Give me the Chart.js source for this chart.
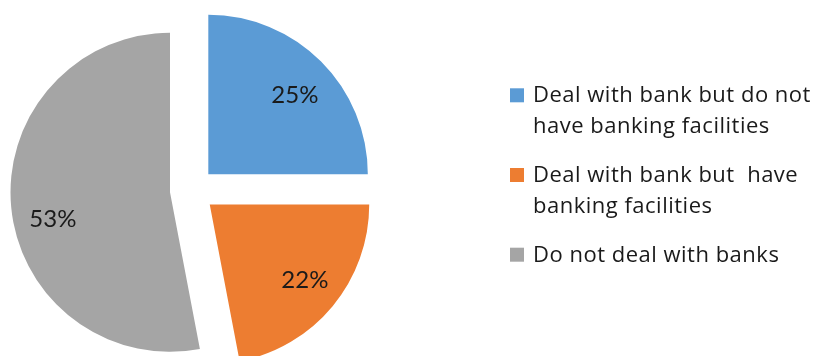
<!DOCTYPE html>
<html>
<head>
<meta charset="utf-8">
<script src="https://cdn.jsdelivr.net/npm/chart.js@4/dist/chart.umd.min.js"></script>
<style>
  html, body { margin: 0; padding: 0; background: #ffffff; }
  #wrap { position: relative; width: 816px; height: 356px; }
</style>
</head>
<body>
<div id="wrap"><canvas id="pie" width="816" height="356"></canvas></div>
<script>
// Survey split: how respondents relate to banks
const categories = [
  ['Deal with bank but do not', 'have banking facilities'],
  ['Deal with bank but  have', 'banking facilities'],
  ['Do not deal with banks']
];
const shares = [25, 22, 53];
const sliceColors = ['#5B9BD5', '#ED7D31', '#A5A5A5'];

const LABEL_FONT = 'Lato, "Open Sans", sans-serif';
const LEGEND_FONT = '"Open Sans", Lato, sans-serif';

// Pull every slice outwards along its bisector.
const explodeSlices = {
  id: 'explodeSlices',
  beforeDatasetDraw(chart, args, opts) {
    const ctx = chart.ctx;
    args.meta.data.forEach(arc => {
      const mid = (arc.startAngle + arc.endAngle) / 2;
      ctx.save();
      ctx.translate(Math.cos(mid) * opts.distance, Math.sin(mid) * opts.distance);
      arc.draw(ctx);
      ctx.restore();
    });
    return false;
  }
};

// Percentage labels inside each slice.
const sliceLabels = {
  id: 'sliceLabels',
  afterDatasetsDraw(chart, args, opts) {
    const ctx = chart.ctx;
    const meta = chart.getDatasetMeta(0);
    const values = chart.data.datasets[0].data;
    const total = values.reduce((a, b) => a + b, 0);
    const dist = chart.options.plugins.explodeSlices.distance;
    ctx.save();
    ctx.font = opts.size + 'px ' + LABEL_FONT;
    ctx.fillStyle = opts.color;
    ctx.textAlign = 'center';
    ctx.textBaseline = 'middle';
    meta.data.forEach((arc, i) => {
      const mid = (arc.startAngle + arc.endAngle) / 2;
      const r = dist + arc.outerRadius * opts.ratio;
      const nudge = opts.nudge[i] || [0, 0];
      const x = arc.x + Math.cos(mid) * r + nudge[0];
      const y = arc.y + Math.sin(mid) * r + nudge[1];
      ctx.fillText(Math.round(values[i] / total * 100) + '%', x, y);
    });
    ctx.restore();
  }
};

// Legend to the right, with wrapped item text.
const sideLegend = {
  id: 'sideLegend',
  afterDraw(chart, args, o) {
    const ctx = chart.ctx;
    const colors = chart.data.datasets[0].backgroundColor;
    ctx.save();
    ctx.font = o.size + 'px ' + LEGEND_FONT;
    ctx.letterSpacing = o.tracking + 'px';
    ctx.textAlign = 'left';
    ctx.textBaseline = 'alphabetic';
    let base = o.firstBaseline;
    chart.data.labels.forEach((label, i) => {
      const lines = Array.isArray(label) ? label : [label];
      ctx.fillStyle = colors[i];
      ctx.fillRect(o.boxX, base - o.boxSize, o.boxSize, o.boxSize);
      ctx.fillStyle = o.color;
      lines.forEach((line, j) => ctx.fillText(line, o.textX, base + j * o.lineHeight));
      base += (lines.length - 1) * o.lineHeight + o.itemStep;
    });
    ctx.restore();
  }
};

new Chart(document.getElementById('pie'), {
  type: 'pie',
  data: {
    labels: categories,
    datasets: [{
      data: shares,
      backgroundColor: sliceColors,
      borderWidth: 0
    }]
  },
  options: {
    responsive: false,
    animation: false,
    radius: 159.5,
    layout: { padding: { left: 0, right: 431.2, top: 24.4, bottom: 0 } },
    plugins: {
      legend: { display: false },
      tooltip: { enabled: false },
      explodeSlices: { distance: 22.5 },
      sliceLabels: {
        size: 24, color: '#1a1a1a', ratio: 0.75,
        nudge: [[2, 6], [3, -1], [2, 16]]
      },
      sideLegend: {
        size: 22, tracking: 0.5, color: '#1a1a1a',
        boxX: 510, boxSize: 14, textX: 533,
        firstBaseline: 102.3, lineHeight: 31, itemStep: 48.7
      }
    }
  },
  plugins: [explodeSlices, sliceLabels, sideLegend]
});
</script>
</body>
</html>
